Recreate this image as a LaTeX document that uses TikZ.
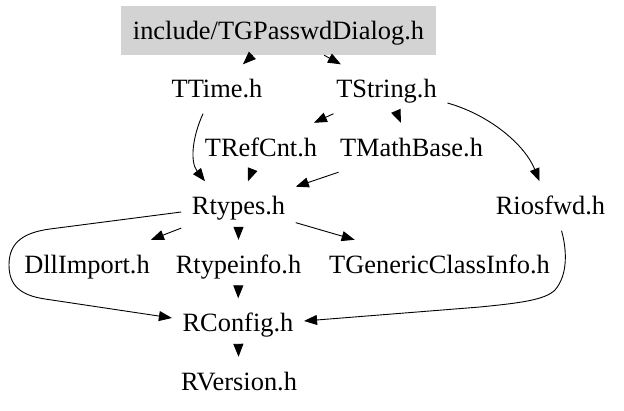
\documentclass[tikz,border=0pt]{standalone}
\usepackage{fontspec}
\setmainfont{Liberation Serif}
\usetikzlibrary{arrows.meta}
\definecolor{boxgray}{RGB}{211,211,211}
\begin{document}
\begin{tikzpicture}[x=1pt,y=-1pt,
  lbl/.style={rectangle, inner xsep=10.5pt, inner ysep=0pt, minimum height=49pt,
    text height=17.4pt, text depth=0pt, font=\fontsize{26.4}{30}\selectfont},
  dep/.style={draw=black, line width=0.9pt, -{Triangle[length=13pt,width=10pt]}}]
\useasboundingbox (0,0) rectangle (624,411);
\node[lbl, fill=boxgray, minimum width=315pt] (top) at (278.5,30.5) {include/TGPasswdDialog.h};
\node[lbl] (ttime) at (217,89) {TTime.h};
\node[lbl] (tstring) at (386.5,89) {TString.h};
\node[lbl] (trefcnt) at (261,147.5) {TRefCnt.h};
\node[lbl] (tmathbase) at (411.5,147.5) {TMathBase.h};
\node[lbl] (rtypes) at (238.5,206) {Rtypes.h};
\node[lbl] (riosfwd) at (550.5,206) {Riosfwd.h};
\node[lbl] (dllimport) at (87,264.5) {DllImport.h};
\node[lbl] (rtypeinfo) at (238.5,264.5) {Rtypeinfo.h};
\node[lbl] (tgci) at (439.5,264.5) {TGenericClassInfo.h};
\node[lbl] (rconfig) at (238,323) {RConfig.h};
\node[lbl] (rversion) at (239,381.5) {RVersion.h};

\draw[dep] (top) -- (ttime);
\draw[dep] (top) -- (tstring);
\draw[dep] (tstring) -- (trefcnt);
\draw[dep] (tstring) -- (tmathbase);
\draw[dep] (trefcnt) -- (rtypes);
\draw[dep] (tmathbase) -- (rtypes);
\draw[dep] (rtypes) -- (dllimport);
\draw[dep] (rtypes) -- (rtypeinfo);
\draw[dep] (rtypes) -- (tgci);
\draw[dep] (rtypeinfo) -- (rconfig);
\draw[dep] (rconfig) -- (rversion);

\draw[dep] ([xshift=-14pt]ttime.south) .. controls (192,138) and (190,162) .. ([xshift=-33.5pt]rtypes.north);
\draw[dep] ([yshift=-14pt]tstring.east) .. controls (490,115) and (525,145) .. ([xshift=-11pt]riosfwd.north);
\draw[dep] ([yshift=-6pt]rtypes.west) -- (50,229) .. controls (20,233) and (9,245) .. (9,265)
  .. controls (9,285) and (20,295.3) .. (45,299) -- ([yshift=5pt]rconfig.west);
\draw[dep] ([xshift=11pt]riosfwd.south) .. controls (567,250) and (568,275) .. (555,290)
  .. controls (545,300) and (520,303) .. (480,307) -- ([yshift=2pt]rconfig.east);
\end{tikzpicture}
\end{document}
